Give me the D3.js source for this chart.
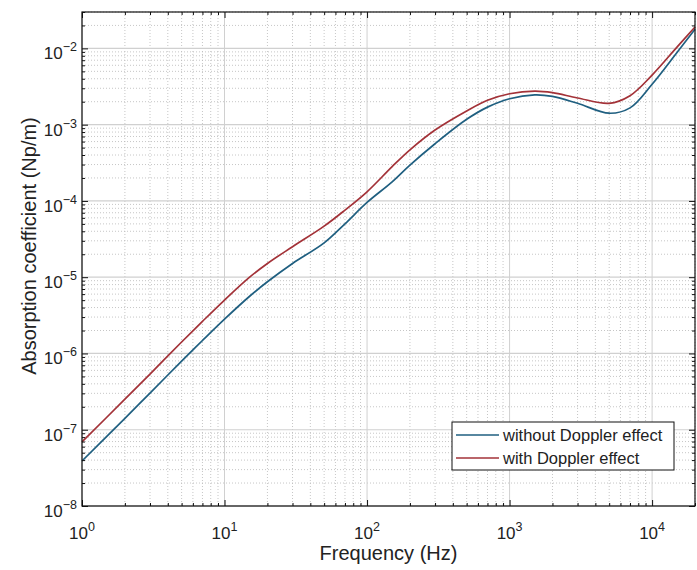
<!DOCTYPE html>
<html><head><meta charset="utf-8">
<script src="https://cdn.jsdelivr.net/npm/d3@7"></script>
<style>body{margin:0;background:#fff}svg{display:block}text{font-family:"Liberation Sans",Arial,sans-serif;fill:#222}</style>
</head><body><svg id="c" width="697" height="570"></svg>
<script>
const freqs = [1,2,3,5,7,10,15,20,30,50,70,100,150,200,300,500,700,1000,1500,2000,3000,5000,7000,10000,15000,20000];
const logWithout = [-7.41,-6.85,-6.52,-6.10,-5.83,-5.55,-5.25,-5.06,-4.82,-4.55,-4.30,-4.02,-3.75,-3.53,-3.25,-2.93,-2.77,-2.66,-2.61,-2.63,-2.72,-2.85,-2.78,-2.47,-2.05,-1.75];
const logWith = [-7.16,-6.60,-6.27,-5.85,-5.58,-5.30,-5.00,-4.82,-4.60,-4.33,-4.12,-3.88,-3.55,-3.33,-3.07,-2.82,-2.68,-2.595,-2.56,-2.58,-2.65,-2.72,-2.62,-2.35,-1.98,-1.72];
const xDecades = [0,1,2,3,4];
const yDecades = [-8,-7,-6,-5,-4,-3,-2];
const seriesNames = ["without Doppler effect","with Doppler effect"];
const colors = ["#1f5f80","#a33238"];

const L=82,R=695,T=12,B=506;
const svg=d3.select("#c");
const x=d3.scaleLog().domain([1,20000]).range([L,R]);
const y=d3.scaleLog().domain([1e-8,3e-2]).range([B,T]);

const xMinor=[];for(let d=0;d<=4;d++)for(let m=2;m<=9;m++){const v=m*10**d;if(v<=20000)xMinor.push(v);}
const yMinor=[];for(let d=-8;d<=-2;d++)for(let m=2;m<=9;m++){const v=m*10**d;if(v<=3e-2)yMinor.push(v);}
const xMajor=xDecades.map(d=>10**d), yMajor=yDecades.map(d=>10**d);

const g=svg.append("g");
g.selectAll(".xmi").data(xMinor).join("line").attr("x1",d=>x(d)).attr("x2",d=>x(d)).attr("y1",T).attr("y2",B)
 .attr("stroke","#b8b8b8").attr("stroke-width",0.8).attr("stroke-dasharray","1,2");
g.selectAll(".ymi").data(yMinor).join("line").attr("y1",d=>y(d)).attr("y2",d=>y(d)).attr("x1",L).attr("x2",R)
 .attr("stroke","#b8b8b8").attr("stroke-width",0.8).attr("stroke-dasharray","1,2");
g.selectAll(".xma").data(xMajor).join("line").attr("x1",d=>x(d)).attr("x2",d=>x(d)).attr("y1",T).attr("y2",B)
 .attr("stroke","#d0d0d0").attr("stroke-width",1);
g.selectAll(".yma").data(yMajor).join("line").attr("y1",d=>y(d)).attr("y2",d=>y(d)).attr("x1",L).attr("x2",R)
 .attr("stroke","#d0d0d0").attr("stroke-width",1.2);

const line=d3.line().x(d=>x(d[0])).y(d=>y(10**d[1])).curve(d3.curveCatmullRom.alpha(0.5));
[logWithout,logWith].forEach((s,i)=>{
  svg.append("path").attr("d",line(freqs.map((f,j)=>[f,s[j]]))).attr("fill","none")
   .attr("stroke",colors[i]).attr("stroke-width",1.7);
});

function ax(axisGen,tr,vals,len){
  const a=svg.append("g").attr("transform",tr).call(axisGen.tickValues(vals).tickSize(len).tickFormat(""));
  a.select(".domain").remove();
  a.selectAll("line").attr("stroke","#111");
}
ax(d3.axisBottom(x),`translate(0,${B})`,xMinor,-3);
ax(d3.axisBottom(x),`translate(0,${B})`,xMajor,-6);
ax(d3.axisTop(x),`translate(0,${T})`,xMinor,-3);
ax(d3.axisTop(x),`translate(0,${T})`,xMajor,-6);
ax(d3.axisLeft(y),`translate(${L},0)`,yMinor,-3);
ax(d3.axisLeft(y),`translate(${L},0)`,yMajor,-6);
ax(d3.axisRight(y),`translate(${R},0)`,yMinor,-3);
ax(d3.axisRight(y),`translate(${R},0)`,yMajor,-6);
svg.append("rect").attr("x",L).attr("y",T).attr("width",R-L).attr("height",B-T).attr("fill","none").attr("stroke","#111").attr("stroke-width",1.2);

const fmt=d=>String(d).replace("-","\u2212");
xDecades.forEach(d=>{
  const t=svg.append("text").attr("x",x(10**d)).attr("y",539).attr("text-anchor","middle").style("font-size","17px");
  t.append("tspan").text("10");
  t.append("tspan").attr("dy",-8).style("font-size","12.5px").text(fmt(d));
});
yDecades.forEach(d=>{
  const t=svg.append("text").attr("x",L-5).attr("y",y(10**d)+11).attr("text-anchor","end").style("font-size","17px");
  t.append("tspan").text("10");
  t.append("tspan").attr("dy",-8).style("font-size","12.5px").text(fmt(d));
});
svg.append("text").attr("x",(L+R)/2).attr("y",560).attr("text-anchor","middle").style("font-size","20px").text("Frequency (Hz)");
svg.append("text").attr("transform",`translate(36,246) rotate(-90)`).attr("text-anchor","middle").style("font-size","20px").text("Absorption coefficient (Np/m)");

const lg=svg.append("g");
lg.append("rect").attr("x",452).attr("y",422).attr("width",222).attr("height",48).attr("fill","#fff").attr("stroke","#111").attr("stroke-width",1);
seriesNames.forEach((n,i)=>{
  const yy=435+i*23;
  lg.append("line").attr("x1",456).attr("x2",499).attr("y1",yy).attr("y2",yy).attr("stroke",colors[i]).attr("stroke-width",1.7);
  lg.append("text").attr("x",503).attr("y",yy+6).style("font-size","16.5px").text(n);
});
</script></body></html>
